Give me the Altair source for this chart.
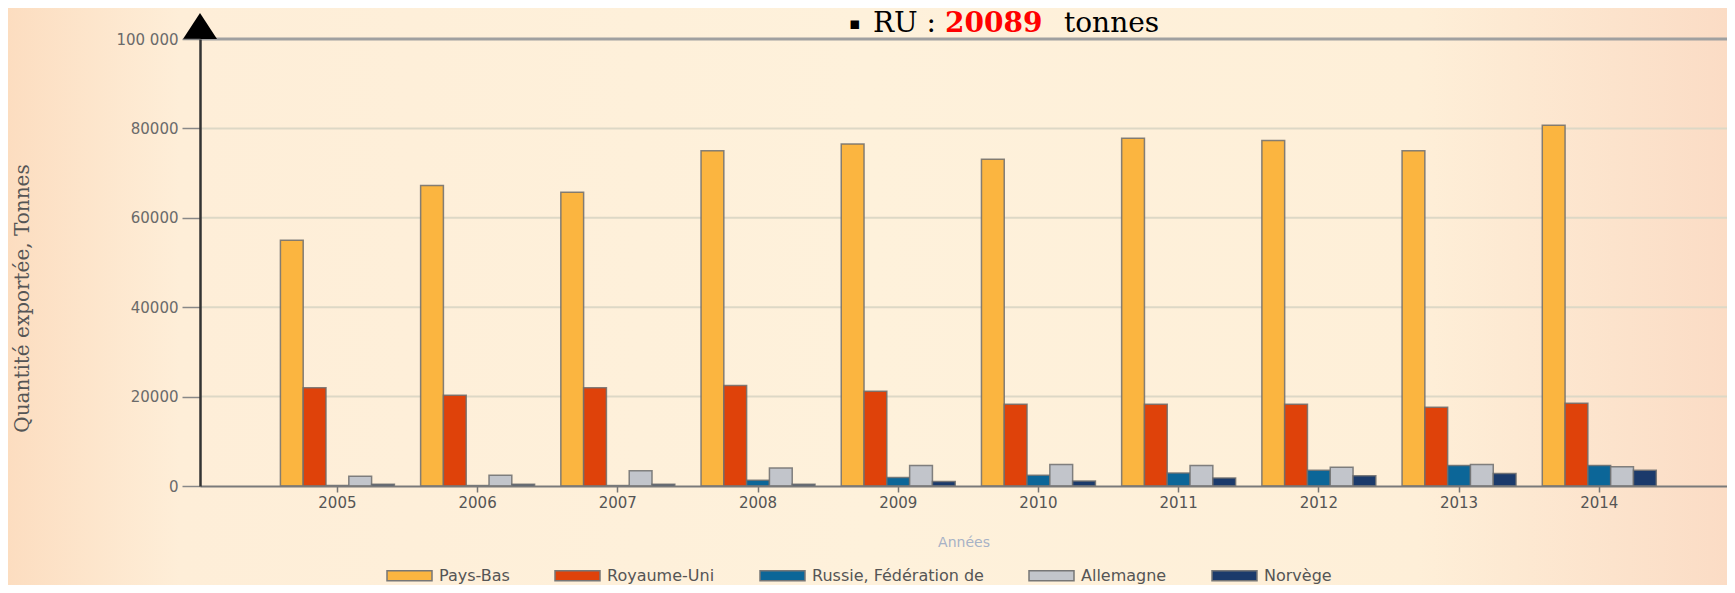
import altair as alt
import pandas as pd

years = ["2005", "2006", "2007", "2008", "2009", "2010", "2011", "2012", "2013", "2014"]
series = ["Pays-Bas", "Royaume-Uni", "Russie, Fédération de", "Allemagne", "Norvège"]
colors = ["#FBB540", "#DF420A", "#0C6698", "#C2C5CB", "#1B3A6B"]

pays_bas = [55000, 67200, 65700, 75000, 76500, 73100, 77800, 77300, 75000, 80700]
royaume_uni = [22000, 20300, 22000, 22500, 21200, 18300, 18300, 18300, 17600, 18500]
russie = [100, 100, 100, 1300, 1900, 2400, 2900, 3500, 4600, 4600]
allemagne = [2200, 2400, 3400, 4000, 4600, 4800, 4600, 4200, 4800, 4300]
norvege = [400, 400, 400, 400, 1000, 1100, 1800, 2300, 2800, 3500]

grid_values = [20000, 40000, 60000, 80000]
tick_values = [0, 20000, 40000, 60000, 80000, 100000]

values_by_series = [pays_bas, royaume_uni, russie, allemagne, norvege]
rows = []
for i, yr in enumerate(years):
    for s, vals in zip(series, values_by_series):
        rows.append({"Année": yr, "Pays": s, "Quantité": vals[i]})
df = pd.DataFrame(rows)

W, H = 1527, 447
PL, PT, PB = 192, 31, 99

background = alt.Chart(alt.Data(values=[{}])).mark_rect(
    color={"gradient": "linear", "x1": 0, "x2": 1, "y1": 0, "y2": 0,
           "stops": [{"offset": 0, "color": "#FCDDC0"},
                     {"offset": 0.1, "color": "#FEEED8"},
                     {"offset": 0.5, "color": "#FEF1DB"},
                     {"offset": 0.82, "color": "#FEEFD8"},
                     {"offset": 1, "color": "#FBDCC5"}]}
).encode(x=alt.value(-PL), x2=alt.value(W), y=alt.value(-PT), y2=alt.value(H + PB))

grid = alt.Chart(alt.Data(values=[{"v": v} for v in grid_values])).mark_rule(
    color="#DDD8C6", strokeWidth=2).encode(y=alt.Y("v:Q"))

top_line = alt.Chart(alt.Data(values=[{"v": 100000}])).mark_rule(
    color="#A0A0A0", strokeWidth=3).encode(y=alt.Y("v:Q"))

bars = alt.Chart(df).mark_bar(stroke="#6e6e6e", strokeWidth=1.5, strokeOpacity=0.85).encode(
    x=alt.X("Année:N", sort=years,
            scale=alt.Scale(paddingInner=0.187, paddingOuter=0.539, align=0.532),
            axis=alt.Axis(title="Années", labelAngle=0, labelFont="DejaVu Sans", labelFontSize=15,
                          labelColor="#555555", labelPadding=3, tickSize=6, tickColor="#777777",
                          tickWidth=1.5, domainColor="#7a7a7a", domainWidth=2, grid=False,
                          titleFont="DejaVu Sans", titleFontSize=14, titleFontWeight="normal",
                          titleColor="#A7B2C6", titleY=56, titleBaseline="middle", zindex=1)),
    xOffset=alt.XOffset("Pays:N", sort=series, scale=alt.Scale(paddingInner=0, paddingOuter=0)),
    y=alt.Y("Quantité:Q", scale=alt.Scale(domain=[0, 100000], nice=False),
            axis=alt.Axis(values=tick_values, format="d",
                          labelExpr="datum.value == 100000 ? '100 000' : datum.label",
                          title="Quantité exportée, Tonnes", titleFont="DejaVu Serif",
                          titleFontSize=20, titleFontWeight="normal", titleColor="#555555",
                          titleAngle=-90, titleX=-178, titleY=259, titleAlign="center",
                          titleBaseline="middle", domainColor="#333333", domainWidth=2.5,
                          tickColor="#888888", tickSize=18, tickWidth=1.5,
                          labelFont="DejaVu Sans", labelFontSize=15, labelColor="#6a6a6a",
                          labelPadding=4, grid=False, zindex=1)),
    color=alt.Color("Pays:N", sort=series, scale=alt.Scale(domain=series, range=colors),
                    legend=alt.Legend(title=None, orient="none", direction="horizontal",
                                      legendX=186, legendY=513, padding=0,
                                      symbolType="M-1,-0.22L1,-0.22L1,0.22L-1,0.22Z",
                                      symbolSize=2025, symbolStrokeColor="#777777",
                                      symbolStrokeWidth=1.5, symbolOpacity=1,
                                      labelFont="DejaVu Sans", labelFontSize=16, labelLimit=400,
                                      labelColor="#555555", labelOffset=6, columnPadding=42)),
)

arrow = alt.Chart(alt.Data(values=[{}])).mark_point(
    shape="M0,-0.76L1,0.76L-1,0.76Z", filled=True, color="black", size=1156, opacity=1
).encode(x=alt.value(0), y=alt.value(-13))

one = alt.Data(values=[{}])
bullet = alt.Chart(one).mark_text(font="DejaVu Sans", fontSize=17, align="left",
                                  baseline="alphabetic", color="black").encode(
    x=alt.value(649), y=alt.value(-10), text=alt.value("▪"))
t1 = alt.Chart(one).mark_text(font="DejaVu Serif", fontSize=28, align="left",
                              baseline="alphabetic", color="black").encode(
    x=alt.value(673), y=alt.value(-7), text=alt.value("RU :"))
t2 = alt.Chart(one).mark_text(font="DejaVu Serif", fontSize=28, fontWeight="bold", align="left",
                              baseline="alphabetic", color="#FF0000").encode(
    x=alt.value(745), y=alt.value(-7), text=alt.value("20089"))
t3 = alt.Chart(one).mark_text(font="DejaVu Serif", fontSize=28, align="left",
                              baseline="alphabetic", color="black").encode(
    x=alt.value(864), y=alt.value(-7), text=alt.value("tonnes"))

chart = alt.layer(background, grid, top_line, bars, arrow, bullet, t1, t2, t3).properties(
    width=W, height=H,
    autosize=alt.AutoSizeParams(type="none"),
    padding={"left": PL, "top": PT, "right": 0, "bottom": PB},
    background="#FEF0DA",
).configure_view(stroke=None)

chart.save("out.html", embed_options={"renderer": "svg", "actions": False})
